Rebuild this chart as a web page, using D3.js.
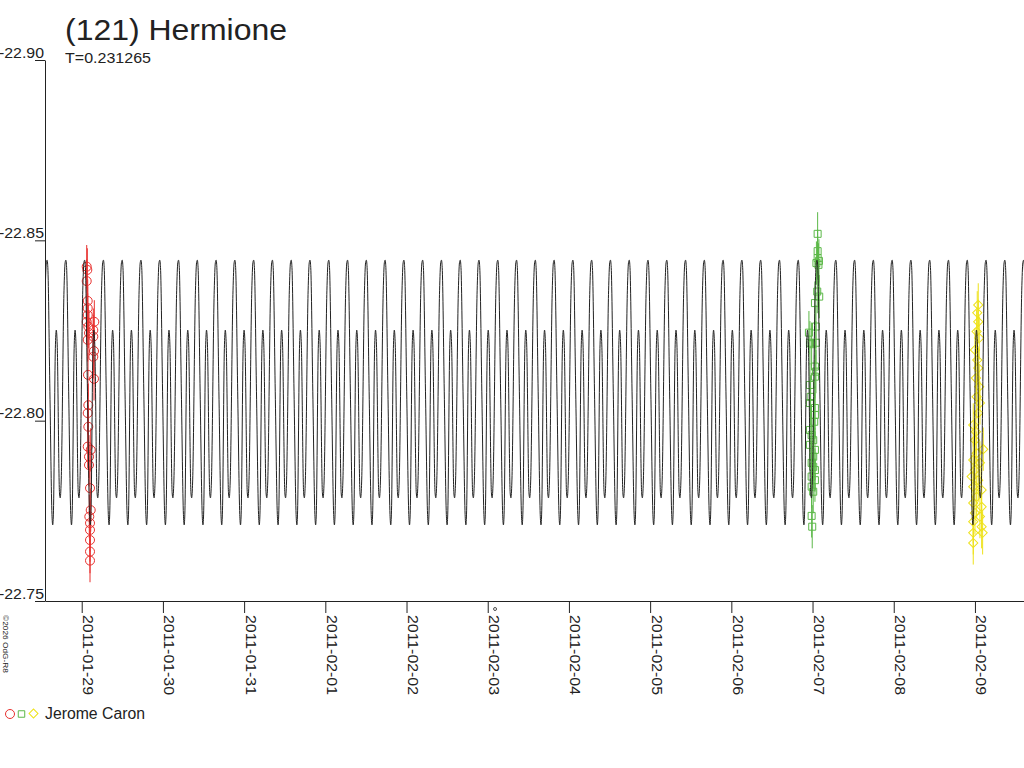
<!DOCTYPE html>
<html>
<head>
<meta charset="utf-8">
<script src="https://cdn.jsdelivr.net/npm/d3@7"></script>
<style>
  html, body { margin: 0; padding: 0; background: #fff; }
  svg { display: block; }
  text { font-family: "Liberation Sans", Arial, sans-serif; }
</style>
</head>
<body>
<svg id="chart" width="1024" height="768"></svg>
<script>
// ---------- data ----------
const title = "(121) Hermione";
const periodLabel = "T=0.231265";
const period = 0.231265;            // days
const observer = "Jerome Caron";
const credit = "\u00A92026 OdG-R8";

const yTicks = [-22.90, -22.85, -22.80, -22.75];
const xTickDates = ["2011-01-29","2011-01-30","2011-01-31","2011-02-01","2011-02-02","2011-02-03",
                    "2011-02-04","2011-02-05","2011-02-06","2011-02-07","2011-02-08","2011-02-09"];
const xDomainStart = "2011-01-28T13:09:00Z";
const xDomainEnd   = "2011-02-09T14:30:00Z";

// model light curve: one cycle (phase 0..1), repeated with the period
const modelEpoch = "2011-01-29T00:52:00Z";   // time of a maximum
const modelPhase = [0.00, 0.04, 0.15, 0.26, 0.30, 0.34, 0.44, 0.49, 0.54, 0.66, 0.70, 0.75, 0.90, 0.96, 1.00];
const modelMag   = [-22.8445, -22.8425, -22.8080, -22.7740, -22.7711, -22.7750, -22.8200, -22.8251,
                    -22.8210, -22.7800, -22.7786, -22.7830, -22.8360, -22.8438, -22.8445];

// observations (time = fraction of day after the session date)
const errorBar = 0.006;
const redDate = "2011-01-29";
const redFrac = [0.0616,0.0690,0.0616,0.0739,0.0739,0.0739,0.0616,0.1552,0.0813,0.1428,0.0899,0.1428,
                 0.0739,0.1515,0.1428,0.0776,0.1515,0.0813,0.0739,0.0813,0.0739,0.1108,0.0899,0.0899,
                 0.1022,0.1108,0.0936,0.1022,0.1022,0.1022,0.1022,0.1022];
const redMag  = [-22.8427,-22.8418,-22.8387,-22.8332,-22.8312,-22.8293,-22.8274,-22.8274,-22.8261,-22.8251,
                 -22.8243,-22.8233,-22.8224,-22.8193,-22.8177,-22.8127,-22.8116,-22.8043,-22.8021,-22.7983,
                 -22.7928,-22.7919,-22.7900,-22.7877,-22.7813,-22.7752,-22.7734,-22.7716,-22.7697,-22.7669,
                 -22.7637,-22.7612];

const greenDate = "2011-02-07";
const greenFrac = [0.0628,0.0628,0.0628,0.0788,0.0480,0.0727,0.0579,0.0825,0.0296,0.0419,-0.0443,-0.0320,
                   0.0419,-0.0111,0.0296,0.0419,0.0296,-0.0320,-0.0234,-0.0320,0.0296,0.0296,0.0209,-0.0320,
                   -0.0111,0.0086,-0.0320,0.0296,0.0086,-0.0111,0.0086,0.0296,-0.0111,0.0296,-0.0111,0.0086,
                   -0.0111,-0.0037];
const greenMag  = [-22.8518,-22.8470,-22.8451,-22.8443,-22.8437,-22.8432,-22.8358,-22.8344,-22.8326,-22.8261,
                   -22.8244,-22.8216,-22.8216,-22.8212,-22.8150,-22.8136,-22.8122,-22.8099,-22.8066,-22.8049,
                   -22.8035,-22.8016,-22.7997,-22.7974,-22.7960,-22.7946,-22.7933,-22.7919,-22.7900,-22.7883,
                   -22.7872,-22.7863,-22.7845,-22.7835,-22.7817,-22.7803,-22.7736,-22.7706];

const yellowDate = "2011-02-09";
const yellowFrac = [0.0406,0.0283,0.0406,0.0209,0.0529,0.0000,0.0283,0.0406,0.0123,0.0529,0.0209,0.0616,
                    0.0406,-0.0209,0.0123,0.0000,0.1022,0.0209,-0.0209,0.0616,0.0000,-0.0406,0.0406,-0.0209,
                    0.0825,0.0209,-0.0209,0.0825,0.0000,0.0616,-0.0209,0.0825,-0.0209,0.0948,-0.0209];
const yellowMag  = [-22.8321,-22.8299,-22.8274,-22.8247,-22.8229,-22.8196,-22.8168,-22.8146,-22.8118,-22.8094,
                    -22.8066,-22.8049,-22.8021,-22.7988,-22.7969,-22.7946,-22.7921,-22.7910,-22.7891,-22.7883,
                    -22.7863,-22.7845,-22.7835,-22.7817,-22.7808,-22.7789,-22.7772,-22.7761,-22.7744,-22.7734,
                    -22.7720,-22.7706,-22.7689,-22.7689,-22.7661];

const markerDate = "2011-02-03T02:10:00Z";   // small event mark under the axis

const colRed = "#e8302e", colGreen = "#5cb848", colYellow = "#eee21a", colInk = "#222222";

(function draw() {
// ---------- layout ----------
const pL = 45, pR = 1024, pT = 60, pB = 601;
const svg = d3.select("#chart");
const DAY = 864e5;

const x = d3.scaleUtc().domain([new Date(xDomainStart), new Date(xDomainEnd)]).range([pL, pR]);
const y = d3.scaleLinear().domain([-22.90, -22.75]).range([pT, pB]);

svg.append("defs").append("clipPath").attr("id", "plotClip")
  .append("rect").attr("x", pL).attr("y", 0).attr("width", pR - pL).attr("height", pB);

// ---------- observations ----------
function series(dateStr, fr, mg) {
  const base = new Date(dateStr + "T00:00:00Z").getTime();
  return fr.map((f, i) => ({ t: new Date(base + f * DAY), m: mg[i] }));
}
const obs = [
  { data: series(redDate, redFrac, redMag), color: colRed, shape: "circle" },
  { data: series(greenDate, greenFrac, greenMag), color: colGreen, shape: "square" },
  { data: series(yellowDate, yellowFrac, yellowMag), color: colYellow, shape: "diamond" }
];

const plot = svg.append("g").attr("clip-path", "url(#plotClip)");
const symSquare = d3.symbol().type(d3.symbolSquare).size(49);
const symDiamond = d3.symbol().type(d3.symbolSquare).size(42);

obs.forEach(s => {
  const g = plot.append("g");
  g.selectAll("line.err").data(s.data).join("line")
    .attr("x1", d => x(d.t)).attr("x2", d => x(d.t))
    .attr("y1", d => y(d.m - errorBar)).attr("y2", d => y(d.m + errorBar))
    .attr("stroke", s.color).attr("stroke-width", 1);
  if (s.shape === "circle") {
    g.selectAll("circle").data(s.data).join("circle")
      .attr("cx", d => x(d.t)).attr("cy", d => y(d.m)).attr("r", 4.5)
      .attr("fill", "none").attr("stroke", s.color).attr("stroke-width", 1);
  } else {
    g.selectAll("path.sym").data(s.data).join("path")
      .attr("d", s.shape === "square" ? symSquare : symDiamond)
      .attr("transform", d => `translate(${x(d.t)},${y(d.m)})` + (s.shape === "diamond" ? " rotate(45)" : ""))
      .attr("fill", "none").attr("stroke", s.color).attr("stroke-width", 1);
  }
});

// ---------- model curve ----------
const epoch = new Date(modelEpoch).getTime();
const d0 = x.domain()[0].getTime(), d1 = x.domain()[1].getTime();
const kStart = Math.floor((d0 - epoch) / (period * DAY)) - 1;
const kEnd = Math.ceil((d1 - epoch) / (period * DAY)) + 1;
const curve = [];
for (let k = kStart; k <= kEnd; k++) {
  for (let i = 0; i < modelPhase.length - 1; i++) {
    curve.push({ t: new Date(epoch + (k + modelPhase[i]) * period * DAY), m: modelMag[i] });
  }
}
plot.append("path").datum(curve)
  .attr("fill", "none").attr("stroke", colInk).attr("stroke-width", 1)
  .attr("d", d3.line().x(d => x(d.t)).y(d => y(d.m)).curve(d3.curveMonotoneX));

// ---------- axes ----------
const yAxis = svg.append("g").attr("transform", `translate(${pL},0)`)
  .call(d3.axisLeft(y).tickValues(yTicks).tickSize(10).tickSizeOuter(0).tickFormat(d => d.toFixed(2)));
yAxis.select(".domain").attr("stroke", colInk);
yAxis.selectAll(".tick line").attr("stroke", colInk);
yAxis.selectAll(".tick text")
  .attr("x", -1).attr("y", -3).attr("dy", 0)
  .attr("text-anchor", "end").attr("fill", colInk)
  .style("font-family", '"Liberation Sans", Arial, sans-serif').style("font-size", "15px")
  .attr("textLength", 45).attr("lengthAdjust", "spacingAndGlyphs");

const xAxis = svg.append("g").attr("transform", `translate(0,${pB})`)
  .call(d3.axisBottom(x).tickValues(xTickDates.map(s => new Date(s + "T00:00:00Z")))
    .tickSize(12).tickSizeOuter(0).tickFormat(d3.utcFormat("%Y-%m-%d")));
xAxis.select(".domain").attr("stroke", colInk);
xAxis.selectAll(".tick line").attr("stroke", colInk);
xAxis.selectAll(".tick text")
  .attr("x", 0).attr("y", 0).attr("dy", 0)
  .attr("transform", "translate(1,14) rotate(90)")
  .attr("text-anchor", "start").attr("fill", colInk)
  .style("font-family", '"Liberation Sans", Arial, sans-serif').style("font-size", "15px")
  .attr("textLength", 80).attr("lengthAdjust", "spacingAndGlyphs");

// event marker under axis
svg.append("circle").attr("cx", x(new Date(markerDate))).attr("cy", pB + 8).attr("r", 1.5)
  .attr("fill", "none").attr("stroke", colInk).attr("stroke-width", 0.8);

// ---------- titles ----------
svg.append("text").attr("x", 65).attr("y", 40).text(title)
  .attr("fill", colInk).style("font-size", "30px")
  .attr("textLength", 222).attr("lengthAdjust", "spacingAndGlyphs");
svg.append("text").attr("x", 65).attr("y", 63).text(periodLabel)
  .attr("fill", colInk).style("font-size", "14px")
  .attr("textLength", 86).attr("lengthAdjust", "spacingAndGlyphs");

svg.append("text").attr("transform", "translate(3,615) rotate(90)").text(credit)
  .attr("fill", colInk).style("font-size", "8px")
  .attr("textLength", 58).attr("lengthAdjust", "spacingAndGlyphs");

// ---------- legend ----------
const lg = svg.append("g");
lg.append("circle").attr("cx", 10).attr("cy", 714).attr("r", 4.5)
  .attr("fill", "none").attr("stroke", colRed);
lg.append("path").attr("d", d3.symbol().type(d3.symbolSquare).size(42)())
  .attr("transform", "translate(21.5,714)").attr("fill", "none").attr("stroke", colGreen);
lg.append("path").attr("d", d3.symbol().type(d3.symbolSquare).size(40)())
  .attr("transform", "translate(33.5,713.5) rotate(45)").attr("fill", "none").attr("stroke", colYellow);
lg.append("text").attr("x", 45).attr("y", 719).text(observer)
  .attr("fill", colInk).style("font-size", "16px")
  .attr("textLength", 100).attr("lengthAdjust", "spacingAndGlyphs");
})();
</script>
</body>
</html>
